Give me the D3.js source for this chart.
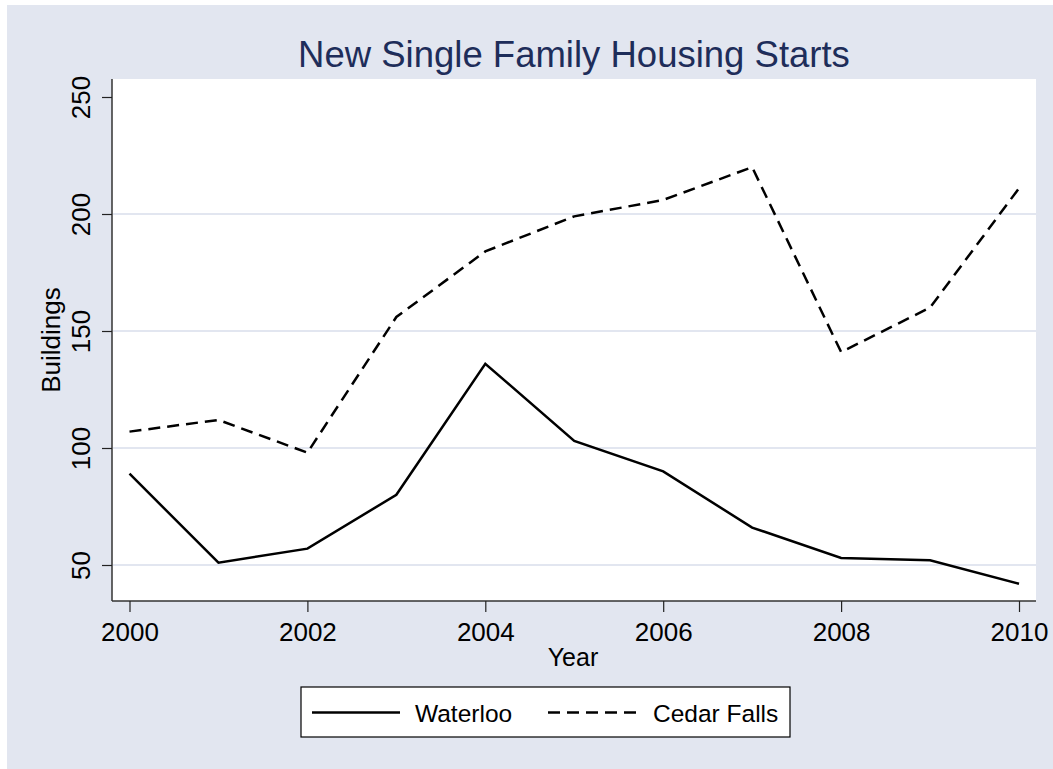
<!DOCTYPE html>
<html>
<head>
<meta charset="utf-8">
<script src="https://cdn.jsdelivr.net/npm/d3@7"></script>
<style>
  html, body { margin: 0; padding: 0; background: #ffffff; }
  svg { display: block; font-family: "Liberation Sans", Arial, sans-serif; }
</style>
</head>
<body>
<svg id="chart" width="1053" height="769"></svg>
<script>
// Annual new single-family housing starts (buildings)
const years = [2000, 2001, 2002, 2003, 2004, 2005, 2006, 2007, 2008, 2009, 2010];
const waterloo = [89, 51, 57, 80, 136, 103, 90, 66, 53, 52, 42];
const cedarFalls = [107, 112, 98, 156, 184, 199, 206, 220, 141, 160, 211];
const xTicks = [2000, 2002, 2004, 2006, 2008, 2010];
const yTicks = [50, 100, 150, 200, 250];
const gridTicks = [50, 100, 150, 200];
const seriesNames = ["Waterloo", "Cedar Falls"];

const bg = "#e2e6f0";
const svg = d3.select("#chart");

// graph region background
svg.append("rect").attr("x", 7).attr("y", 5).attr("width", 1046).attr("height", 764).attr("fill", bg);

// plot region
const plot = { left: 112, top: 79, right: 1036, bottom: 601 };
svg.append("rect")
  .attr("x", plot.left).attr("y", plot.top)
  .attr("width", plot.right - plot.left).attr("height", plot.bottom - plot.top)
  .attr("fill", "#ffffff");

const x = d3.scaleLinear().domain([2000, 2010]).range([129.5, 1019]);
const y = d3.scaleLinear().domain([50, 250]).range([565, 97]);

// horizontal grid lines
svg.append("g").selectAll("line").data(gridTicks).join("line")
  .attr("x1", plot.left + 1).attr("x2", plot.right)
  .attr("y1", d => y(d)).attr("y2", d => y(d))
  .attr("stroke", bg).attr("stroke-width", 2);

// y axis
const yAxis = svg.append("g")
  .attr("transform", `translate(${plot.left},0)`)
  .call(d3.axisLeft(y).tickValues(yTicks).tickSize(10).tickPadding(0).tickFormat(d3.format("d")));
yAxis.select(".domain").attr("d", `M0,${plot.top}V${plot.bottom}`).attr("stroke", "#333").attr("stroke-width", 1.5);
yAxis.selectAll(".tick line").attr("stroke", "#222").attr("stroke-width", 1.2);
yAxis.selectAll(".tick text")
  .attr("x", 0).attr("y", 0).attr("dy", 0)
  .attr("transform", "translate(-22,0) rotate(-90)")
  .attr("text-anchor", "middle")
  .attr("fill", "#000").style("font-size", "26px");

// x axis
const xAxis = svg.append("g")
  .attr("transform", `translate(0,${plot.bottom})`)
  .call(d3.axisBottom(x).tickValues(xTicks).tickSize(11).tickPadding(0).tickFormat(d3.format("d")));
xAxis.select(".domain").attr("d", `M${plot.left},0H${plot.right}`).attr("stroke", "#333").attr("stroke-width", 1.5);
xAxis.selectAll(".tick line").attr("stroke", "#222").attr("stroke-width", 1.2);
xAxis.selectAll(".tick text")
  .attr("y", 40).attr("dy", 0)
  .attr("fill", "#000").style("font-size", "26px");

// series lines
const line = d3.line().x((d, i) => x(years[i])).y(d => y(d));
svg.append("path").datum(waterloo)
  .attr("d", line).attr("fill", "none")
  .attr("stroke", "#000").attr("stroke-width", 2.5).attr("stroke-linejoin", "miter");
svg.append("path").datum(cedarFalls)
  .attr("d", line).attr("fill", "none")
  .attr("stroke", "#000").attr("stroke-width", 2.5).attr("stroke-dasharray", "12,7");

// titles
svg.append("text").attr("x", (plot.left + plot.right) / 2).attr("y", 66.5)
  .attr("text-anchor", "middle").attr("fill", "#1e2d5a").style("font-size", "36.5px")
  .text("New Single Family Housing Starts");
svg.append("text").attr("x", 573).attr("y", 666)
  .attr("text-anchor", "middle").attr("fill", "#000").style("font-size", "25px")
  .text("Year");
svg.append("text").attr("transform", `translate(60,${(plot.top + plot.bottom) / 2}) rotate(-90)`)
  .attr("text-anchor", "middle").attr("fill", "#000").style("font-size", "26px")
  .text("Buildings");

// legend
const lg = svg.append("g");
lg.append("rect").attr("x", 301).attr("y", 687).attr("width", 489).attr("height", 50)
  .attr("fill", "#fff").attr("stroke", "#000").attr("stroke-width", 1.2);
const legendItems = [
  { name: seriesNames[0], x0: 312, x1: 400, tx: 415, dash: null },
  { name: seriesNames[1], x0: 548, x1: 638, tx: 653, dash: "12,7" }
];
legendItems.forEach(it => {
  lg.append("line").attr("x1", it.x0).attr("x2", it.x1).attr("y1", 712.5).attr("y2", 712.5)
    .attr("stroke", "#000").attr("stroke-width", 2.5)
    .attr("stroke-dasharray", it.dash);
  lg.append("text").attr("x", it.tx).attr("y", 721.5).attr("fill", "#000")
    .style("font-size", "24.5px").text(it.name);
});
</script>
</body>
</html>
